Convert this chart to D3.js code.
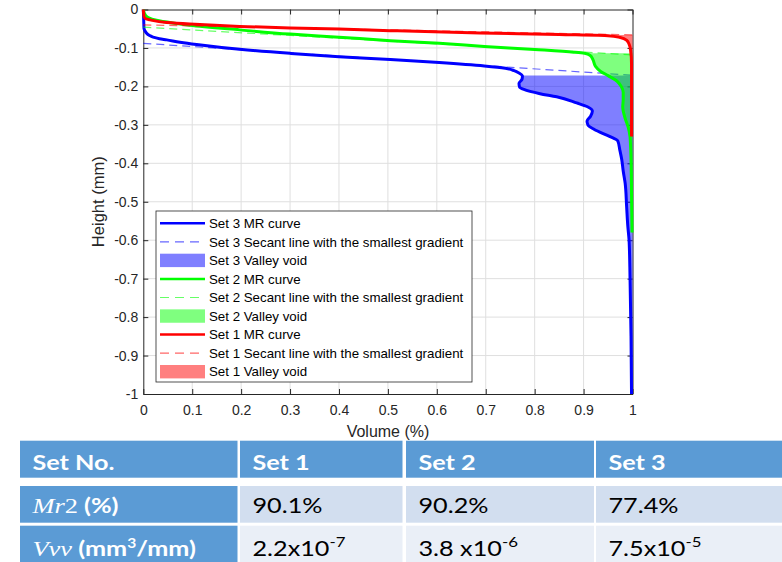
<!DOCTYPE html>
<html>
<head>
<meta charset="utf-8">
<script src="https://cdn.jsdelivr.net/npm/d3@7"></script>
<style>
  body { margin: 0; background: #fff; }
  svg { display: block; }
</style>
</head>
<body>
<svg id="chart" width="782" height="562"></svg>
<script>
// Material-ratio (MR) curves: [volume fraction, height in mm]
const set3Curve = [
  [0,0],[0.0005,-0.015],[0.001,-0.035],[0.0014,-0.049],[0.004,-0.057],[0.007,-0.062],
  [0.012,-0.067],[0.02,-0.072],[0.033,-0.076],[0.048,-0.079],[0.075,-0.085],[0.109,-0.091],
  [0.197,-0.1035],[0.30,-0.114],[0.40,-0.1227],[0.505,-0.130],[0.605,-0.138],[0.697,-0.147],
  [0.740,-0.153],[0.758,-0.159],[0.768,-0.165],[0.775,-0.173],[0.774,-0.182],[0.768,-0.192],
  [0.769,-0.201],[0.778,-0.208],[0.811,-0.219],[0.845,-0.227],[0.886,-0.243],[0.908,-0.253],
  [0.918,-0.264],[0.914,-0.278],[0.907,-0.290],[0.909,-0.301],[0.922,-0.312],[0.953,-0.330],
  [0.970,-0.342],[0.974,-0.365],[0.978,-0.390],[0.981,-0.420],[0.985,-0.452],[0.988,-0.513],
  [0.9905,-0.565],[0.993,-0.60],[0.995,-0.70],[0.997,-0.85],[0.998,-1.0]
];
const set2Curve = [
  [0,0],[0.001,-0.005],[0.002,-0.009],[0.004,-0.014],[0.01,-0.021],[0.027,-0.028],
  [0.06,-0.035],[0.095,-0.041],[0.197,-0.053],[0.30,-0.064],[0.40,-0.072],[0.505,-0.081],
  [0.605,-0.088],[0.697,-0.096],[0.80,-0.104],[0.88,-0.111],[0.902,-0.114],[0.913,-0.119],
  [0.919,-0.130],[0.924,-0.147],[0.935,-0.161],[0.950,-0.172],[0.968,-0.186],[0.977,-0.200],
  [0.981,-0.215],[0.981,-0.235],[0.980,-0.253],[0.985,-0.283],[0.991,-0.305],[0.995,-0.331],
  [0.997,-0.39],[0.998,-0.48],[0.999,-0.58]
];
const set1Curve = [
  [0,0],[0.0005,-0.008],[0.001,-0.014],[0.0014,-0.019],[0.005,-0.024],[0.014,-0.027],
  [0.048,-0.034],[0.095,-0.038],[0.197,-0.044],[0.30,-0.048],[0.40,-0.051],[0.505,-0.055],
  [0.688,-0.061],[0.85,-0.065],[0.95,-0.068],[0.975,-0.073],[0.988,-0.080],[0.993,-0.090],
  [0.996,-0.105],[0.998,-0.14],[0.998,-0.33]
];

// Secant lines with the smallest gradient: [start, end]
const set3Secant = [[0,-0.088],[1,-0.171]];
const set2Secant = [[0,-0.046],[1,-0.118]];
const set1Secant = [[0,-0.040],[1,-0.066]];

// Table values
const setNames = ["Set 1", "Set 2", "Set 3"];
const mr2Percent = [90.1, 90.2, 77.4];
const vvvMantissa = ["2.2", "3.8 ", "7.5"];
const vvvExponent = ["-7", "-6", "-5"];

// Axis ticks
const xTicks = [0,0.1,0.2,0.3,0.4,0.5,0.6,0.7,0.8,0.9,1];
const yTicks = [0,-0.1,-0.2,-0.3,-0.4,-0.5,-0.6,-0.7,-0.8,-0.9,-1];

// Series in drawing / legend order
const series = [
  { name: "Set 3", color: "#0000ff", curve: set3Curve, secant: set3Secant, mr2: mr2Percent[2] },
  { name: "Set 2", color: "#00ff00", curve: set2Curve, secant: set2Secant, mr2: mr2Percent[1] },
  { name: "Set 1", color: "#ff0000", curve: set1Curve, secant: set1Secant, mr2: mr2Percent[0] }
];

const svg = d3.select("#chart");
const axisColor = "#262626";
const sansFont = "'Liberation Sans', Arial, sans-serif";
const x = d3.scaleLinear().domain([0, 1]).range([143.3, 632.5]);
const y = d3.scaleLinear().domain([0, -1]).range([9.5, 394]);
const fmt = d => String(+(+d).toFixed(1));

// grid
const grid = svg.append("g");
grid.selectAll("line.gx").data(xTicks.slice(1, -1)).join("line")
  .attr("x1", d => x(d)).attr("x2", d => x(d))
  .attr("y1", y(0)).attr("y2", y(-1))
  .attr("stroke", "#dfdfdf").attr("stroke-width", 1);
grid.selectAll("line.gy").data(yTicks.slice(1, -1)).join("line")
  .attr("y1", d => y(d)).attr("y2", d => y(d))
  .attr("x1", x(0)).attr("x2", x(1))
  .attr("stroke", "#dfdfdf").attr("stroke-width", 1);

// axes (box with inward ticks)
function styleAxis(g) {
  g.selectAll("path.domain").attr("stroke", axisColor);
  g.selectAll(".tick line").attr("stroke", axisColor);
  g.selectAll("text").attr("fill", axisColor)
    .attr("font-family", sansFont).attr("font-size", 14);
}
svg.append("g").attr("transform", `translate(0,${y(-1)})`)
  .call(d3.axisBottom(x).tickValues(xTicks).tickSizeInner(-5).tickSizeOuter(0).tickPadding(11).tickFormat(fmt))
  .call(styleAxis);
svg.append("g").attr("transform", `translate(${x(0)},0)`)
  .call(d3.axisLeft(y).tickValues(yTicks).tickSizeInner(-5).tickSizeOuter(0).tickPadding(5).tickFormat(fmt))
  .call(styleAxis);
svg.append("g").attr("transform", `translate(0,${y(0)})`)
  .call(d3.axisTop(x).tickValues(xTicks).tickSizeInner(-5).tickSizeOuter(0).tickFormat(""))
  .call(styleAxis);
svg.append("g").attr("transform", `translate(${x(1)},0)`)
  .call(d3.axisRight(y).tickValues(yTicks).tickSizeInner(-5).tickSizeOuter(0).tickFormat(""))
  .call(styleAxis);

// axis titles
svg.append("text").attr("x", 388).attr("y", 437).attr("text-anchor", "middle")
  .attr("font-family", sansFont).attr("font-size", 16)
  .attr("fill", axisColor).text("Volume (%)");
svg.append("text").attr("transform", `translate(103.5,${(y(0) + y(-1)) / 2}) rotate(-90)`)
  .attr("text-anchor", "middle")
  .attr("font-family", sansFont).attr("font-size", 16.5)
  .attr("fill", axisColor).text("Height (mm)");

// height on the MR curve where the volume first reaches Mr2
function heightAt(curve, v) {
  for (let i = 1; i < curve.length; i++) {
    const [v0, h0] = curve[i - 1], [v1, h1] = curve[i];
    if ((v0 - v) * (v1 - v) <= 0 && v0 !== v1) {
      return h0 + (h1 - h0) * (v - v0) / (v1 - v0);
    }
  }
  return curve[curve.length - 1][1];
}

const line = d3.line().x(d => x(d[0])).y(d => y(d[1])).curve(d3.curveMonotoneY);
const straight = d3.line().x(d => x(d[0])).y(d => y(d[1]));
const area = d3.area().y(d => y(d[1])).x0(d => x(d[0])).x1(x(1)).curve(d3.curveMonotoneY);

const plot = svg.append("g");
series.forEach(s => {
  plot.append("path").datum(s.curve).attr("d", line)
    .attr("fill", "none").attr("stroke", s.color).attr("stroke-width", 3)
    .attr("stroke-linejoin", "round");
  plot.append("path").datum(s.secant).attr("d", straight)
    .attr("fill", "none").attr("stroke", s.color).attr("stroke-opacity", 0.6)
    .attr("stroke-width", 1.2).attr("stroke-dasharray", "8,5");
  // valley void: below the Mr2 level, right of the MR curve
  const mr = s.mr2 / 100;
  const hTop = heightAt(s.curve, mr);
  const pts = [[mr, hTop]].concat(s.curve.filter(d => d[1] < hTop - 1e-6));
  plot.append("path").datum(pts).attr("d", area)
    .attr("fill", s.color).attr("fill-opacity", 0.5).attr("stroke", "none");
});

// legend
const legendItems = [];
series.forEach(s => {
  legendItems.push({ kind: "line", color: s.color, label: `${s.name} MR curve` });
  legendItems.push({ kind: "dash", color: s.color, label: `${s.name} Secant line with the smallest gradient` });
  legendItems.push({ kind: "fill", color: s.color, label: `${s.name} Valley void` });
});
const legend = svg.append("g");
legend.append("rect").attr("x", 156).attr("y", 211).attr("width", 316).attr("height", 171)
  .attr("fill", "#fff").attr("stroke", axisColor).attr("stroke-width", 0.8);
const li = legend.selectAll("g.item").data(legendItems).join("g")
  .attr("transform", (d, i) => `translate(0,${223.3 + i * 18.55})`);
li.filter(d => d.kind === "line").append("line")
  .attr("x1", 160).attr("x2", 205).attr("y1", 0).attr("y2", 0)
  .attr("stroke", d => d.color).attr("stroke-width", 2.5);
li.filter(d => d.kind === "dash").append("line")
  .attr("x1", 160).attr("x2", 205).attr("y1", 0).attr("y2", 0)
  .attr("stroke", d => d.color).attr("stroke-opacity", 0.6)
  .attr("stroke-width", 1.2).attr("stroke-dasharray", "9,6");
li.filter(d => d.kind === "fill").append("rect")
  .attr("x", 160).attr("y", -6.7).attr("width", 45).attr("height", 13.4)
  .attr("fill", d => d.color).attr("fill-opacity", 0.5);
li.append("text").attr("x", 209).attr("y", 4.7)
  .attr("font-family", sansFont).attr("font-size", 13.3)
  .attr("fill", "#000").text(d => d.label);

// summary table
const colLeft = [20, 240, 406, 596];
const colRight = [237.5, 402.5, 594, 790];
const rowTop = [440.7, 486, 525.7];
const rowBottom = [477.7, 522.7, 562];
const rowBase = [470, 513.3, 556];
const headBlue = "#5b9bd5";
const bandFill = ["#d2deef", "#eaeff7"];
const tableFont = "Lato, 'Open Sans', sans-serif";
const serifFont = "'Liberation Serif', 'DejaVu Serif', serif";
const table = svg.append("g");
const sx = 1.2;

function cellText(col, row) {
  return table.append("text")
    .attr("transform", `translate(${colLeft[col] + 12.5},${rowBase[row]}) scale(${sx},1)`)
    .attr("font-family", tableFont).attr("font-size", 21);
}

// header row
const headerCells = ["Set No."].concat(setNames);
table.selectAll("rect.h").data(headerCells).join("rect")
  .attr("x", (d, i) => colLeft[i]).attr("y", rowTop[0])
  .attr("width", (d, i) => colRight[i] - colLeft[i]).attr("height", rowBottom[0] - rowTop[0])
  .attr("fill", headBlue);
headerCells.forEach((t, i) => cellText(i, 0).attr("font-weight", "bold").attr("fill", "#fff").text(t));

// body rows
[1, 2].forEach(r => {
  table.append("rect").attr("x", colLeft[0]).attr("y", rowTop[r])
    .attr("width", colRight[0] - colLeft[0]).attr("height", rowBottom[r] - rowTop[r]).attr("fill", headBlue);
  table.selectAll(`rect.b${r}`).data(setNames).join("rect")
    .attr("x", (d, i) => colLeft[i + 1]).attr("y", rowTop[r])
    .attr("width", (d, i) => colRight[i + 1] - colLeft[i + 1]).attr("height", rowBottom[r] - rowTop[r])
    .attr("fill", bandFill[r - 1]);
});

// row labels
const mrLabel = cellText(0, 1).attr("fill", "#fff");
mrLabel.append("tspan").attr("font-family", serifFont).attr("font-size", 22)
  .attr("font-style", "italic").text("Mr");
mrLabel.append("tspan").attr("font-family", serifFont).attr("font-size", 22).text("2");
mrLabel.append("tspan").attr("font-weight", "bold").text(" (%)");

const vvLabel = cellText(0, 2).attr("fill", "#fff");
vvLabel.append("tspan").attr("font-family", serifFont).attr("font-size", 22)
  .attr("font-style", "italic").text("Vvv");
vvLabel.append("tspan").attr("font-weight", "bold").text(" (mm");
vvLabel.append("tspan").attr("font-weight", "bold").attr("font-size", 13).attr("dy", -8).text("3");
vvLabel.append("tspan").attr("font-weight", "bold").attr("dy", 8).text("/mm)");

// values
mr2Percent.forEach((v, i) => cellText(i + 1, 1).attr("fill", "#000").text(v.toFixed(1) + "%"));
vvvMantissa.forEach((m, i) => {
  const t = cellText(i + 1, 2).attr("fill", "#000");
  t.append("tspan").text(m + "x10");
  t.append("tspan").attr("font-size", 14).attr("dy", -9).text(vvvExponent[i]);
});
</script>
</body>
</html>
